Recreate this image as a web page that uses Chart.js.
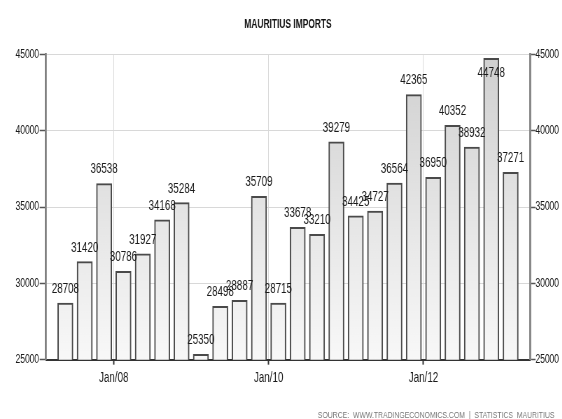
<!DOCTYPE html>
<html>
<head>
<meta charset="utf-8">
<script src="https://cdn.jsdelivr.net/npm/chart.js@4"></script>
<style>
  html, body { margin: 0; padding: 0; background: #fff; overflow: hidden; }
  /* the source image is horizontally squeezed; draw wide and squeeze the same way */
  #wrap { width: 803px; height: 419px; transform: scaleX(0.7); transform-origin: 0 0; }
</style>
</head>
<body>
<div id="wrap"><canvas id="myChart"></canvas></div>
<script>
// quarterly imports, Mauritius
const values = [28708, 31420, 36538, 30786, 31927, 34168, 35284, 25350,
                28498, 28887, 35709, 28715, 33678, 33210, 39279, 34425,
                34727, 36564, 42365, 36950, 40352, 38932, 44748, 37271];
const tickPos = [2.5, 10.5, 18.5];
const tickLabels = ['Jan/08', 'Jan/10', 'Jan/12'];
const yTicks = [25000, 30000, 35000, 40000, 45000];

const FONT = "'Liberation Sans', Arial, sans-serif";

function barFill(context){
  const area = context.chart.chartArea;
  if (!area) return '#e0e0e0';
  const g = context.chart.ctx.createLinearGradient(0, area.top, 0, area.bottom);
  g.addColorStop(0, '#d0d0d0');
  g.addColorStop(1, '#f8f8f8');
  return g;
}

const valueLabels = {
  id: 'valueLabels',
  afterDatasetsDraw(chart){
    const ctx = chart.ctx;
    const meta = chart.getDatasetMeta(0);
    ctx.save();
    ctx.font = '14px ' + FONT;
    ctx.fillStyle = '#1a1a1a';
    ctx.textAlign = 'center';
    ctx.textBaseline = 'middle';
    meta.data.forEach((bar, i) => {
      let y = bar.y - 14;
      if (y < chart.chartArea.top + 19) y = chart.chartArea.top + 19;
      ctx.fillText(String(values[i]), bar.x, y);
    });
    ctx.restore();
  }
};

const yAxis = (pos, w) => ({
  type: 'linear',
  position: pos,
  min: 25000,
  max: 45000,
  afterBuildTicks: s => { s.ticks = yTicks.map(v => ({value: v})); },
  afterFit: s => { s.width = w; },
  grid: {
    display: true,
    drawOnChartArea: pos === 'left',
    color: '#d8d8d8',
    borderDash: [1, 2],
    tickColor: '#555',
    tickBorderDash: [],
    tickLength: pos === 'left' ? 9 : 8,
    tickWidth: 1.5
  },
  border: { color: '#808080', width: 2.8 },
  ticks: {
    color: '#1a1a1a',
    padding: pos === 'left' ? 1 : 0,
    font: { family: FONT, size: 12 },
    callback: v => String(v)
  }
});

new Chart(document.getElementById('myChart'), {
  type: 'bar',
  data: {
    datasets: [{
      data: values.map((v, i) => ({x: i, y: v})),
      backgroundColor: barFill,
      borderColor: '#4a4a4a',
      borderWidth: 2,
      borderSkipped: false,
      barThickness: 22
    }]
  },
  options: {
    responsive: true,
    maintainAspectRatio: false,
    animation: false,
    layout: { padding: 0 },
    plugins: {
      legend: { display: false },
      tooltip: { enabled: false },
      title: {
        display: true,
        fullSize: false,
        text: 'MAURITIUS IMPORTS',
        color: '#111',
        font: { family: FONT, size: 12, weight: 'bold' },
        padding: { top: 17, bottom: 23 }
      },
      subtitle: {
        display: true,
        text: 'SOURCE:  WWW.TRADINGECONOMICS.COM  |  STATISTICS  MAURITIUS\u00a0\u00a0\u00a0\u00a0',
        position: 'bottom',
        align: 'end',
        color: '#777',
        font: { family: FONT, size: 9.8, lineHeight: 0.85 },
        padding: { top: 0, bottom: 0 }
      }
    },
    scales: {
      x: {
        type: 'linear',
        min: -1,
        max: 24,
        offset: false,
        afterBuildTicks: s => { s.ticks = tickPos.map(v => ({value: v})); },
        afterFit: s => { s.height = 51; },
        grid: {
          offset: false,
          color: '#d8d8d8',
          borderDash: [1, 2],
          tickColor: '#333',
          tickBorderDash: [],
          tickLength: 5,
          tickWidth: 2
        },
        border: { color: '#333', width: 2 },
        ticks: {
          color: '#1a1a1a',
          padding: 5,
          maxRotation: 0,
          font: { family: FONT, size: 14 },
          callback: (v) => tickLabels[tickPos.indexOf(v)]
        }
      },
      y: yAxis('left', 65.7),
      y2: yAxis('right', 45.9)
    }
  },
  plugins: [valueLabels]
});
</script>
</body>
</html>
